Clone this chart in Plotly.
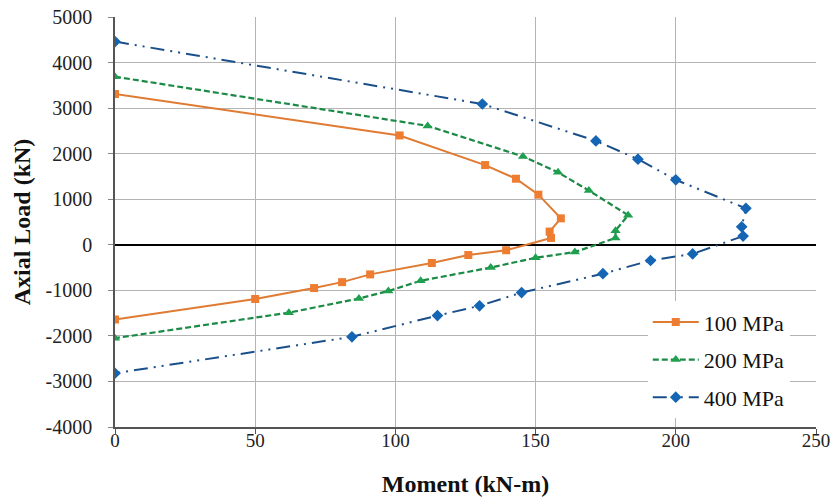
import plotly.graph_objects as go

series_names = ["100 MPa", "200 MPa", "400 MPa"]

m100 = [0, 101.5, 132, 143, 151, 159, 155, 155.5, 139.5, 126, 113, 91, 81, 71, 50, 0]
p100 = [3310, 2400, 1750, 1450, 1100, 580, 290, 150, -120, -225, -400, -650, -820, -950, -1190, -1640]

m200 = [0, 111.5, 145.5, 158, 169, 183, 178.5, 178.5, 164, 150, 134, 109, 97.5, 87, 62, 0]
p200 = [3690, 2610, 1940, 1590, 1190, 650, 310, 150, -160, -285, -500, -790, -1015, -1180, -1490, -2050]

m400 = [0, 131, 171.5, 186.5, 200, 225, 223.5, 224, 206, 191, 174, 145, 130, 115, 84.5, 0]
p400 = [4460, 3090, 2280, 1880, 1425, 800, 395, 190, -200, -345, -635, -1050, -1340, -1555, -2020, -2820]

x_ticks = [0, 50, 100, 150, 200, 250]
y_ticks = [-4000, -3000, -2000, -1000, 0, 1000, 2000, 3000, 4000, 5000]

font_family = "Liberation Serif, DejaVu Serif, serif"

fig = go.Figure()
fig.add_trace(go.Scatter(
    x=m100, y=p100, name=series_names[0], mode="lines+markers", legendgroup="a",
    line=dict(color="#E07B33", width=2),
    marker=dict(symbol="square", size=8, color="#EE7D31"),
))
fig.add_trace(go.Scatter(
    x=m200, y=p200, name=series_names[1], mode="lines+markers", legendgroup="b",
    line=dict(color="#1A8A45", width=2.2, dash="6px,3px"),
    marker=dict(symbol="triangle-up", size=9, color="#1EA04E"),
))
fig.add_trace(go.Scatter(
    x=m400, y=p400, name=series_names[2], mode="lines+markers", legendgroup="c",
    line=dict(color="#1B4F8A", width=2, dash="14px,6px,2px,6px,2px,6px"),
    marker=dict(symbol="diamond", size=9, color="#1565B5"),
))

fig.update_layout(
    width=834, height=499,
    margin=dict(l=115, r=18, t=17, b=72, autoexpand=False),
    paper_bgcolor="white", plot_bgcolor="white",
    font=dict(family=font_family, size=18, color="#222"),
    showlegend=True,
    legend=dict(
        x=0.76, y=0.307, xanchor="left", yanchor="top",
        bgcolor="white", borderwidth=0,
        font=dict(family=font_family, size=22, color="#111"),
        tracegroupgap=6, itemwidth=46,
    ),
)
fig.update_xaxes(
    range=[0, 250], tickvals=x_ticks, ticktext=[str(v) for v in x_ticks],
    showgrid=True, gridcolor="#B4B4B4", gridwidth=1,
    zeroline=False, showline=True, linecolor="#555", linewidth=1.5,
    ticks="outside", ticklen=5, tickcolor="#555", automargin=False,
    ticklabelstandoff=-10, ticklabeloverflow="allow",
    title=dict(text="<b>Moment (kN-m)</b>", font=dict(family=font_family, size=24, color="#111"), standoff=26),
    tickfont=dict(family=font_family, size=19, color="#222"),
)
fig.update_yaxes(
    range=[-4000, 5000], tickvals=y_ticks, ticktext=[str(v) for v in y_ticks],
    showgrid=True, gridcolor="#B4B4B4", gridwidth=1,
    zeroline=True, zerolinecolor="#000", zerolinewidth=1.5,
    showline=True, linecolor="#555", linewidth=1.5,
    ticks="outside", ticklen=5, tickcolor="#888", automargin=False,
    ticklabelstandoff=12, ticklabeloverflow="allow",
    title=dict(text="<b>Axial Load (kN)</b>", font=dict(family=font_family, size=24, color="#111"), standoff=8),
    tickfont=dict(family=font_family, size=20, color="#222"),
)

fig.write_html(
    "out.html",
    config={"displayModeBar": False},
    post_script="document.body.style.margin='0';document.body.style.overflow='hidden';",
)
